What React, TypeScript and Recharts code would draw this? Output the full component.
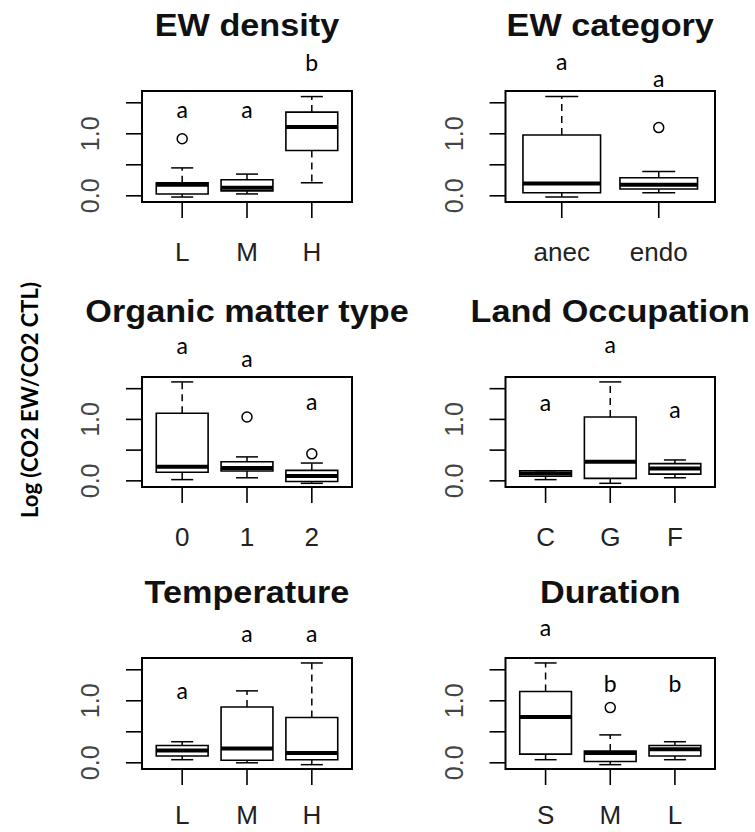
import React from "react";
import {
  ComposedChart,
  XAxis,
  YAxis,
  Scatter,
  ReferenceArea,
  ReferenceLine,
  ReferenceDot,
} from "recharts";

// values: [min, q1, median, q3, max] per group
const densityGroups = ["L", "M", "H"];
const densityStats = [
  [-0.02, 0.03, 0.18, 0.21, 0.45],
  [0.03, 0.08, 0.13, 0.26, 0.35],
  [0.21, 0.73, 1.11, 1.35, 1.6],
];
const densityOutliers = [{ x: 1, y: 0.92 }];
const densityLetters = ["a", "a", "b"];
const densityLetterY = [1.25, 1.25, 2.02];

const categoryGroups = ["anec", "endo"];
const categoryStats = [
  [-0.02, 0.05, 0.2, 0.98, 1.6],
  [0.05, 0.11, 0.18, 0.29, 0.39],
];
const categoryOutliers = [{ x: 2, y: 1.1 }];
const categoryLetters = ["a", "a"];
const categoryLetterY = [2.03, 1.75];

const organicGroups = ["0", "1", "2"];
const organicStats = [
  [0.02, 0.14, 0.23, 1.1, 1.61],
  [0.05, 0.16, 0.21, 0.31, 0.39],
  [-0.04, -0.01, 0.08, 0.17, 0.29],
];
const organicOutliers = [
  { x: 2, y: 1.04 },
  { x: 3, y: 0.44 },
];
const organicLetters = ["a", "a", "a"];
const organicLetterY = [2.06, 1.86, 1.15];

const landGroups = ["C", "G", "F"];
const landStats = [
  [0.02, 0.075, 0.12, 0.165, 0.165],
  [-0.04, 0.04, 0.31, 1.04, 1.61],
  [0.05, 0.11, 0.2, 0.28, 0.34],
];
const landOutliers: { x: number; y: number }[] = [];
const landLetters = ["a", "a", "a"];
const landLetterY = [1.13, 2.08, 1.03];

const tempGroups = ["L", "M", "H"];
const tempStats = [
  [0.05, 0.11, 0.2, 0.28, 0.34],
  [0.0, 0.04, 0.23, 0.9, 1.16],
  [-0.03, 0.05, 0.16, 0.73, 1.61],
];
const tempOutliers: { x: number; y: number }[] = [];
const tempLetters = ["a", "a", "a"];
const tempLetterY = [1.03, 1.95, 1.95];

const durationGroups = ["S", "M", "L"];
const durationStats = [
  [0.05, 0.14, 0.74, 1.15, 1.61],
  [-0.03, 0.02, 0.16, 0.19, 0.45],
  [0.05, 0.11, 0.22, 0.28, 0.34],
];
const durationOutliers = [{ x: 2, y: 0.89 }];
const durationLetters = ["a", "b", "b"];
const durationLetterY = [2.04, 1.14, 1.14];

const yTicks = [0, 0.5, 1, 1.5];
const yDomain: [number, number] = [-0.1, 1.69];

const FONT = "'Liberation Sans', Arial, sans-serif";

// plot area placement per column / row (pixels)
const cols = [
  { left: 0, width: 377, plotLeft: 142, plotRight: 352 },
  { left: 377, width: 378, plotLeft: 505.5, plotRight: 715 },
];
const rows = [
  { plotTop: 91, plotH: 111 },
  { plotTop: 377, plotH: 110 },
  { plotTop: 658, plotH: 111 },
];

const TOP_PAD = 60;
const Y_W = 60;
const PAGE_H = 832;

type PanelProps = {
  title: string;
  groups: string[];
  stats: number[][];
  outliers: { x: number; y: number }[];
  letters: string[];
  letterY: number[];
  col: number;
  row: number;
};

function Panel({ groups, stats, outliers, letters, letterY, col, row }: PanelProps) {
  const c = cols[col];
  const r = rows[row];
  const n = groups.length;
  const xDomain: [number, number] = [0.5 - 0.04 * n, n + 0.5 + 0.04 * n];
  const axisH = Math.min(72, PAGE_H - (r.plotTop + r.plotH));
  const labelOff = Math.min(43, axisH - 24);
  const height = TOP_PAD + r.plotH + axisH;

  const boxes = stats.flatMap((s, i) => {
    const g = i + 1;
    const [mn, q1, med, q3, mx] = s;
    return [
      <ReferenceLine
        key={`wu${g}`}
        segment={[{ x: g, y: q3 }, { x: g, y: mx }]}
        stroke="#000"
        strokeWidth={1.5}
        strokeDasharray="7 5"
        ifOverflow="visible"
      />,
      <ReferenceLine
        key={`wl${g}`}
        segment={[{ x: g, y: q1 }, { x: g, y: mn }]}
        stroke="#000"
        strokeWidth={1.5}
        strokeDasharray="7 5"
        ifOverflow="visible"
      />,
      <ReferenceLine
        key={`cu${g}`}
        segment={[{ x: g - 0.17, y: mx }, { x: g + 0.17, y: mx }]}
        stroke="#000"
        strokeWidth={1.5}
        ifOverflow="visible"
      />,
      <ReferenceLine
        key={`cl${g}`}
        segment={[{ x: g - 0.17, y: mn }, { x: g + 0.17, y: mn }]}
        stroke="#000"
        strokeWidth={1.5}
        ifOverflow="visible"
      />,
      <ReferenceArea
        key={`b${g}`}
        x1={g - 0.4}
        x2={g + 0.4}
        y1={q1}
        y2={q3}
        fill="#fff"
        fillOpacity={1}
        stroke="#000"
        strokeWidth={1.6}
        ifOverflow="visible"
      />,
      <ReferenceLine
        key={`m${g}`}
        segment={[{ x: g - 0.4, y: med }, { x: g + 0.4, y: med }]}
        stroke="#000"
        strokeWidth={4}
        ifOverflow="visible"
      />,
      <ReferenceDot
        key={`l${g}`}
        x={g}
        y={letterY[i]}
        r={0}
        ifOverflow="visible"
        shape={(p: any) => (
          <text
            x={p.cx}
            y={p.cy}
            textAnchor="middle"
            fontFamily="Lato, 'Liberation Sans', sans-serif"
            fontSize={23}
            fill="#000"
          >
            {letters[i]}
          </text>
        )}
      />,
    ];
  });

  return (
    <div
      style={{
        position: "absolute",
        left: c.left,
        top: r.plotTop - TOP_PAD,
        width: c.width,
        height,
      }}
    >
      <ComposedChart
        width={c.width}
        height={height}
        margin={{
          top: TOP_PAD,
          bottom: 0,
          left: c.plotLeft - c.left - Y_W,
          right: c.left + c.width - c.plotRight,
        }}
      >
        <XAxis
          type="number"
          dataKey="x"
          domain={xDomain}
          allowDataOverflow
          ticks={groups.map((_, i) => i + 1)}
          axisLine={false}
          tickLine={{ stroke: "#000", strokeWidth: 1.6 }}
          tickSize={16}
          tickMargin={0}
          height={axisH}
          interval={0}
          tick={(p: any) => (
            <text
              x={p.x}
              y={p.y + labelOff}
              textAnchor="middle"
              fontFamily={FONT}
              fontSize={26}
              fill="#222"
            >
              {groups[Math.round(p.payload.value) - 1]}
            </text>
          )}
        />
        <YAxis
          type="number"
          dataKey="y"
          domain={yDomain}
          allowDataOverflow
          ticks={yTicks}
          interval={0}
          axisLine={false}
          tickLine={{ stroke: "#000", strokeWidth: 1.6 }}
          tickSize={16}
          tickMargin={0}
          width={Y_W}
          tick={(p: any) => {
            const v = p.payload.value;
            if (v !== 0 && v !== 1) return <g />;
            const cx = p.x - 35.5;
            return (
              <text
                x={cx}
                y={p.y}
                transform={`rotate(-90 ${cx} ${p.y})`}
                textAnchor="middle"
                dominantBaseline="central"
                fontFamily={FONT}
                fontSize={25}
                fill="#444"
              >
                {v.toFixed(1)}
              </text>
            );
          }}
        />
        {boxes}
        <ReferenceArea
          x1={xDomain[0]}
          x2={xDomain[1]}
          y1={yDomain[0]}
          y2={yDomain[1]}
          fill="none"
          stroke="#000"
          strokeWidth={2}
          ifOverflow="visible"
        />
        <Scatter
          data={outliers}
          dataKey="y"
          isAnimationActive={false}
          shape={(p: any) => (
            <circle cx={p.cx} cy={p.cy} r={5} fill="#fff" stroke="#000" strokeWidth={1.5} />
          )}
        />
      </ComposedChart>
    </div>
  );
}

const panels = [
  { title: "EW density", groups: densityGroups, stats: densityStats, outliers: densityOutliers, letters: densityLetters, letterY: densityLetterY, col: 0, row: 0 },
  { title: "EW category", groups: categoryGroups, stats: categoryStats, outliers: categoryOutliers, letters: categoryLetters, letterY: categoryLetterY, col: 1, row: 0 },
  { title: "Organic matter type", groups: organicGroups, stats: organicStats, outliers: organicOutliers, letters: organicLetters, letterY: organicLetterY, col: 0, row: 1 },
  { title: "Land Occupation", groups: landGroups, stats: landStats, outliers: landOutliers, letters: landLetters, letterY: landLetterY, col: 1, row: 1 },
  { title: "Temperature", groups: tempGroups, stats: tempStats, outliers: tempOutliers, letters: tempLetters, letterY: tempLetterY, col: 0, row: 2 },
  { title: "Duration", groups: durationGroups, stats: durationStats, outliers: durationOutliers, letters: durationLetters, letterY: durationLetterY, col: 1, row: 2 },
];

export default function App() {
  return (
    <div
      style={{
        position: "absolute",
        left: 0,
        top: 0,
        width: 755,
        height: PAGE_H,
        background: "#fff",
        overflow: "hidden",
      }}
    >
      {panels.map((p) => (
        <Panel key={p.title} {...p} />
      ))}
      <svg
        width={755}
        height={PAGE_H}
        style={{ position: "absolute", left: 0, top: 0, pointerEvents: "none" }}
      >
        {panels.map((p) => {
          const c = cols[p.col];
          const cx = (c.plotLeft + c.plotRight) / 2;
          const y = rows[p.row].plotTop - 55;
          return (
            <text
              key={p.title}
              transform={`translate(${cx} ${y}) scale(1.07 1)`}
              textAnchor="middle"
              fontFamily={FONT}
              fontWeight="bold"
              fontSize={32}
              fill="#111"
            >
              {p.title}
            </text>
          );
        })}
        <text
          transform="translate(29 400) rotate(-90)"
          textAnchor="middle"
          dominantBaseline="central"
          fontFamily="Lato, 'Liberation Sans', sans-serif"
          fontWeight="bold"
          fontSize={22}
          fill="#000"
        >
          Log (CO2 EW/CO2 CTL)
        </text>
      </svg>
    </div>
  );
}
